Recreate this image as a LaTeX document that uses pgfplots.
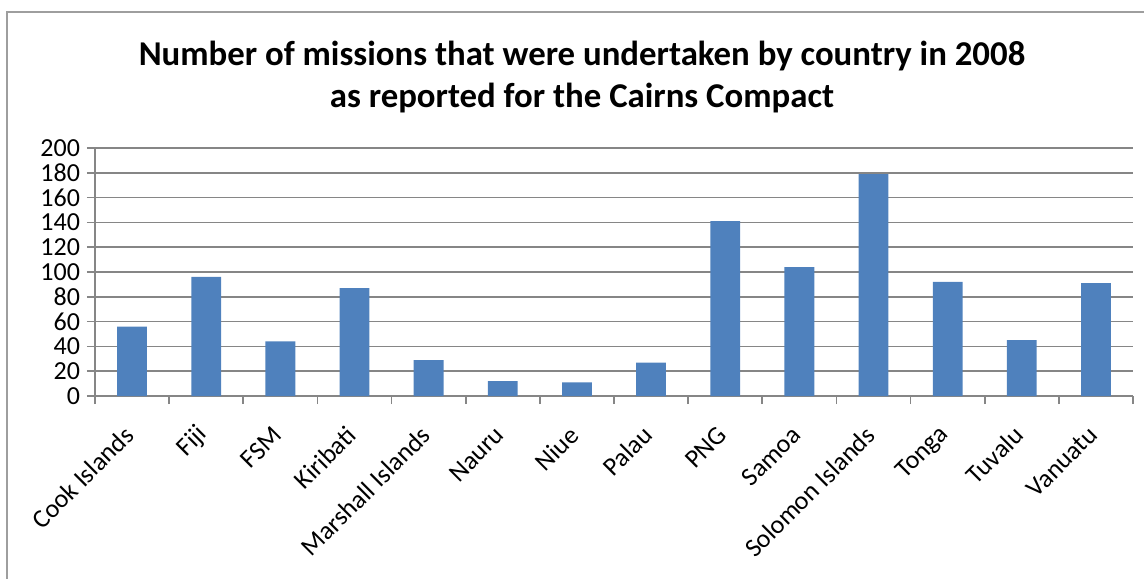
\documentclass[border=0pt]{standalone}
\usepackage{pgfplots}
\pgfplotsset{compat=1.18}
\usepackage{fontspec}
\setmainfont{Carlito}
\definecolor{barblue}{HTML}{4F81BD}
\definecolor{gridgray}{HTML}{868686}
\begin{document}
\begin{tikzpicture}
\useasboundingbox (-47.5pt,-91pt) rectangle (524.5pt,198pt);
\draw[gridgray!80, line width=1pt] (-44pt,-95pt) -- (-44pt,192pt) -- (530pt,192pt);
\begin{axis}[
  at={(0pt,0pt)}, anchor=south west,
  scale only axis, width=519pt, height=124pt,
  xmin=-0.5, xmax=13.5, ymin=0, ymax=200,
  ytick={0,20,...,200},
  xtick={-0.5,0.5,...,13.5},
  xticklabels={Cook Islands, Fiji, FSM, Kiribati, Marshall Islands, Nauru, Niue, Palau, PNG, Samoa, Solomon Islands, Tonga, Tuvalu, Vanuatu},
  x tick label as interval,
  x tick label style={yshift=-11pt, xshift=1pt, rotate=45, anchor=east, font=\fontsize{13}{15}\selectfont},
  y tick label style={font=\fontsize{13}{15}\selectfont},
  /pgf/number format/assume math mode=true,
  tick align=outside,
  major tick length=4pt,
  tick style={gridgray, line width=0.8pt},
  axis x line*=bottom, axis y line*=left,
  ymajorgrids, grid style={gridgray, line width=0.8pt},
  axis line style={gridgray, line width=0.8pt},
  ybar, bar width=14.9pt,
]
\addplot[fill=barblue, draw=none] coordinates {
(0,56) (1,96) (2,44) (3,87) (4,29) (5,12) (6,11) (7,27) (8,141) (9,104) (10,179) (11,92) (12,45) (13,91)};
\end{axis}
\node[align=center, font=\bfseries\fontsize{17.4}{21}\selectfont] at (243.5pt,159.5pt) {Number of missions that were undertaken by country in 2008\\as reported for the Cairns Compact};
\end{tikzpicture}
\end{document}
